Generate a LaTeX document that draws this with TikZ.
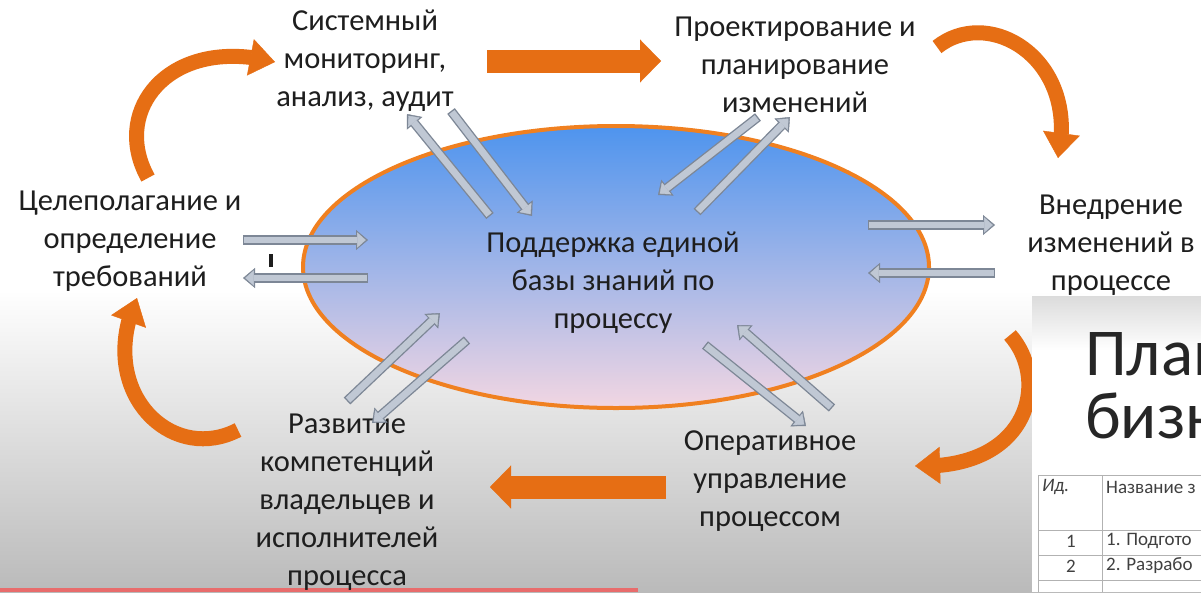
\documentclass[tikz,border=0pt]{standalone}
\usepackage{fontspec}
\setmainfont{Carlito}
\usetikzlibrary{arrows.meta,bending}
\definecolor{kborange}{RGB}{230,110,20}
\definecolor{kbring}{RGB}{240,128,32}
\definecolor{kbgfill}{RGB}{192,200,212}
\definecolor{kbgedge}{RGB}{125,135,150}
\definecolor{kbtop}{RGB}{78,148,238}
\definecolor{kbmid}{RGB}{132,184,246}
\definecolor{kbbot}{RGB}{242,214,226}
\definecolor{kbfloor}{RGB}{186,186,186}
\definecolor{kbink}{RGB}{30,30,30}
\definecolor{kbred}{RGB}{232,108,108}

\tikzset{kbtxt/.style={align=center,inner sep=0pt,text=kbink,font=\fontsize{30.5}{38}\selectfont},
         kbgray/.style={draw=kbgedge,line width=9.5pt,-{Triangle[length=12pt,width=20pt,line width=0.4pt]},
           postaction={draw=kbgfill,line width=6.8pt,shorten <=1.4pt,shorten >=2.2pt,
             -{Triangle[length=8.6pt,width=15pt,line width=0.4pt]}}},
         kbcurve/.style={draw=kborange,line width=15pt,-{Triangle[length=25pt,width=37pt,line width=0.4pt]}},
         kbbig/.style={draw=kborange,line width=23pt,-{Triangle[length=21pt,width=43pt,line width=0.4pt]}},
         kbcell/.style={inner sep=0pt,text=black!75,font=\fontsize{19}{21}\selectfont}}

\begin{document}
\begin{tikzpicture}[x=1pt,y=-1pt]
  \useasboundingbox (0,0) rectangle (1201,592);
  % backdrop
  \fill[white] (0,0) rectangle (1201,290);
  \shade[top color=white,bottom color=kbfloor] (0,290) rectangle (1201,592);
  \fill[kbred] (0,588) rectangle (638,592);
  % knowledge base
  \draw[kbring,line width=4pt,top color=kbtop,middle color=kbmid,bottom color=kbbot]
    (616,267) ellipse [x radius=313pt,y radius=141pt];
  \node[kbtxt] (base) at (613,283) {Поддержка единой\\базы знаний по\\процессу};
  % stages
  \node[kbtxt] (monitor) at (365,61) {Системный\\мониторинг,\\анализ, аудит};
  \node[kbtxt] (design) at (795,65) {Проектирование и\\планирование\\изменений};
  \node[kbtxt] (goal) at (130,241) {Целеполагание и\\определение\\требований};
  \node[kbtxt] (implement) at (1111,245) {Внедрение\\изменений в\\процессе};
  \node[kbtxt] (operate) at (770,481) {Оперативное\\управление\\процессом};
  \node[kbtxt] (develop) at (347,502) {Развитие\\компетенций\\владельцев и\\исполнителей\\процесса};
  \node[fill=kbink,inner sep=0pt,minimum width=4pt,minimum height=13pt] (caret) at (271,260) {};
  % gray exchange arrows
  \coordinate (gs1) at (243,240); \coordinate (ge1) at (368,240);
  \coordinate (gs2) at (368,278); \coordinate (ge2) at (243,278);
  \coordinate (gs3) at (490,216); \coordinate (ge3) at (407,114);
  \coordinate (gs4) at (451,111); \coordinate (ge4) at (532,216);
  \coordinate (gs5) at (758,117); \coordinate (ge5) at (658,195);
  \coordinate (gs6) at (697,212); \coordinate (ge6) at (790,117);
  \coordinate (gs7) at (868,225); \coordinate (ge7) at (995,225);
  \coordinate (gs8) at (995,273); \coordinate (ge8) at (868,273);
  \coordinate (gs9) at (347,401); \coordinate (ge9) at (440,313);
  \coordinate (gs10) at (467,340); \coordinate (ge10) at (372,423);
  \coordinate (gs11) at (705,345); \coordinate (ge11) at (806,426);
  \coordinate (gs12) at (832,408); \coordinate (ge12) at (737,325);
  \foreach \i in {1,...,12} \draw[kbgray] (gs\i) -- (ge\i);
  % orange cycle
  \coordinate (os1) at (487,61); \coordinate (oe1) at (661,61);
  \coordinate (os2) at (666,487); \coordinate (oe2) at (490,487);
  \draw[kbbig] (os1) -- (oe1); \draw[kbbig] (os2) -- (oe2);
  \coordinate (cs1) at (148,178); \coordinate (ce1) at (275,62);
  \coordinate (cs2) at (937,47); \coordinate (ce2) at (1058,158);
  \coordinate (cs3) at (1010,335); \coordinate (ce3) at (915,466);
  \coordinate (cs4) at (238,430); \coordinate (ce4) at (137,298);
  \draw[kbcurve] (cs1) .. controls (110,110) and (170,35) .. (ce1);
  \draw[kbcurve] (cs2) .. controls (990,5) and (1080,60) .. (ce2);
  \draw[kbcurve] (cs3) .. controls (1050,380) and (1030,470) .. (ce3);
  \draw[kbcurve] (cs4) .. controls (170,465) and (95,390) .. (ce4);
  % slide overlay
  \fill[white] (1032,296) rectangle (1201,592);
  \shade[top color=black!14,bottom color=white] (1032,296) rectangle (1201,350);
  \node[anchor=base west,inner sep=0pt,text=black!85,font=\fontsize{67}{70}\selectfont] (plan) at (1085,375) {План};
  \node[anchor=base west,inner sep=0pt,text=black!85,font=\fontsize{67}{70}\selectfont] (biz) at (1085,438) {бизн};
  \draw[black!30] (1038,475) -- (1201,475) (1038,530) -- (1201,530) (1038,555) -- (1201,555)
    (1038,580) -- (1201,580) (1038,475) -- (1038,592) (1102,475) -- (1102,592);
  \node[kbcell,anchor=west,font=\fontsize{19}{21}\selectfont\itshape] (hid) at (1042,487) {Ид.};
  \node[kbcell,anchor=west] (hname) at (1106,487) {Название з};
  \node[kbcell,anchor=east] (n1) at (1076,541) {1};
  \node[kbcell,anchor=west] (t1) at (1106,541) {1. Подгото};
  \node[kbcell,anchor=east] (n2) at (1076,566) {2};
  \node[kbcell,anchor=west] (t2) at (1106,566) {2. Разрабо};
\end{tikzpicture}
\end{document}
